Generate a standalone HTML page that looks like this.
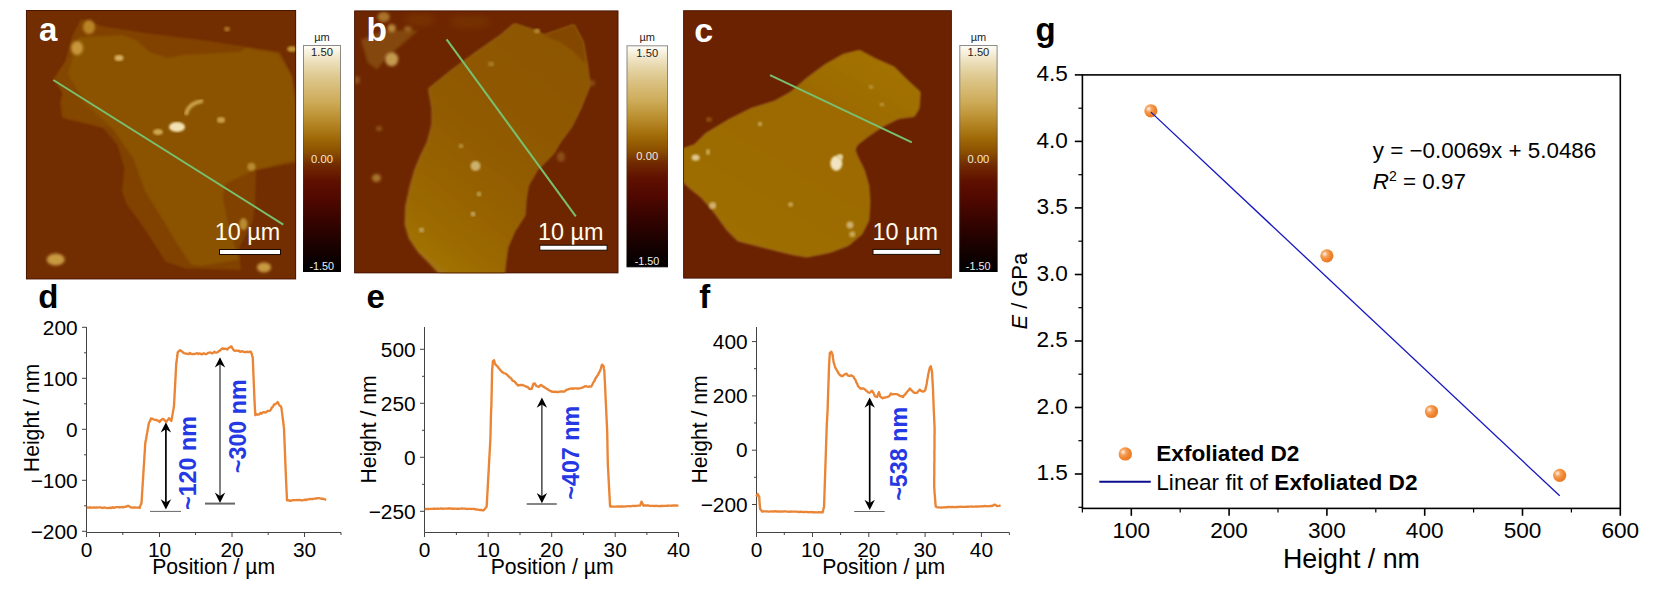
<!DOCTYPE html>
<html lang="en"><head><meta charset="utf-8"><title>AFM figure</title>
<style>
html,body{margin:0;padding:0;background:#fff;}
body{width:1656px;height:590px;overflow:hidden;}
svg{display:block;}
text{font-family:'Liberation Sans', Arial, Helvetica, sans-serif;}
.b{font-weight:bold;}
.tk{font-size:20.9px;fill:#000;}
.ax{font-size:21.2px;fill:#000;}
.gtk{font-size:22.6px;fill:#000;}
.ann{font-size:23.3px;font-weight:bold;fill:#2438e4;}
.sb{font-size:23.4px;fill:#fffbea;}
.cb{font-size:11.2px;fill:#222;}
.pl{font-size:32px;font-weight:bold;}
</style></head><body>
<svg width="1656" height="590" viewBox="0 0 1656 590">
<defs>
<filter id="bl1" x="-10%" y="-10%" width="120%" height="120%"><feGaussianBlur stdDeviation="1.1"/></filter>
<filter id="bl2" x="-30%" y="-30%" width="160%" height="160%"><feGaussianBlur stdDeviation="1.6"/></filter>
<filter id="bl3" x="-30%" y="-30%" width="160%" height="160%"><feGaussianBlur stdDeviation="3"/></filter>
<linearGradient id="cbar" x1="0" y1="0" x2="0" y2="1">
<stop offset="0" stop-color="#fffef8"/>
<stop offset="0.06" stop-color="#efe4c4"/>
<stop offset="0.12" stop-color="#e1ce9a"/>
<stop offset="0.18" stop-color="#d8bd7a"/>
<stop offset="0.25" stop-color="#cdab58"/>
<stop offset="0.33" stop-color="#b98c2c"/>
<stop offset="0.41" stop-color="#a06a08"/>
<stop offset="0.47" stop-color="#8c5000"/>
<stop offset="0.53" stop-color="#722a00"/>
<stop offset="0.60" stop-color="#5f1000"/>
<stop offset="0.68" stop-color="#500800"/>
<stop offset="0.80" stop-color="#300300"/>
<stop offset="0.92" stop-color="#120100"/>
<stop offset="1" stop-color="#000000"/>
</linearGradient>
<linearGradient id="cbs" x1="0" y1="0" x2="0" y2="1"><stop offset="0" stop-color="#8c8c8c"/><stop offset="0.3" stop-color="#8a7a5a"/><stop offset="0.55" stop-color="#5a2a10"/><stop offset="1" stop-color="#000"/></linearGradient>
<radialGradient id="ball" cx="0.34" cy="0.36" r="0.72">
<stop offset="0" stop-color="#fff4ec"/>
<stop offset="0.14" stop-color="#fbd0ac"/>
<stop offset="0.32" stop-color="#f6a058"/>
<stop offset="0.7" stop-color="#ef812a"/>
<stop offset="1" stop-color="#ea7a26"/>
</radialGradient>
<marker id="ah" viewBox="0 0 10 10" refX="5" refY="5" markerWidth="6" markerHeight="6" orient="auto-start-reverse"><path d="M0,0L10,5L0,10z"/></marker>
<clipPath id="ca"><rect x="26" y="10" width="270" height="269.3"/></clipPath>
<clipPath id="cb"><rect x="354.2" y="10.5" width="264.2" height="262.8"/></clipPath>
<clipPath id="cc"><rect x="683.2" y="10.3" width="268.6" height="268.2"/></clipPath>
</defs>
<rect width="1656" height="590" fill="#fff"/>

<g clip-path="url(#ca)">
<rect x="26" y="10" width="270" height="269.3" fill="#722d00"/>
<polygon points="81,19 101,26 145,33 209,41 280,52 292,76 296,100 296,163 256,170 255,205 252.5,222 239,248 241,270 186,268.6 165.6,261.7 154,243.4 140.4,222.8 126.7,204.5 122,190.8 124.4,168 117.5,145 103,128 62,118 60,102 63,93 53,79 65,62 72,37" fill="#814200" filter="url(#bl1)"/>
<polygon points="63,93 55,79 66,62 75,45 110,80 150,130 105,127 64,117 62,102" fill="#844600" filter="url(#bl1)"/>
<polygon points="78.6,37.5 122,35 136,40 150,52 168,58 182,55 239,52 246,48 278,53.5 291.5,76 295,100 295,160 255,170 225,184 222.8,197.6 227.4,220.5 238.8,259.4 200,266.3 190.8,264 177,243.4 163.3,220.5 145,190.8 133.5,158.7 112,128 86,104 68,74" fill="#8b5300" filter="url(#bl1)"/>
<ellipse cx="89" cy="27" rx="6" ry="7" fill="#b98428" filter="url(#bl2)"/>
<ellipse cx="77" cy="48" rx="6" ry="7" fill="#c8963a" filter="url(#bl2)"/>
<ellipse cx="119" cy="58" rx="4.5" ry="3" fill="#d8b060" filter="url(#bl1)"/>
<ellipse cx="177" cy="127" rx="8" ry="5" fill="#f2e2b4" filter="url(#bl1)"/>
<ellipse cx="158" cy="132" rx="5" ry="3" fill="#d0a850" filter="url(#bl1)"/>
<ellipse cx="221" cy="120" rx="4" ry="3" fill="#c9a04a" filter="url(#bl1)"/>
<ellipse cx="251.4" cy="166.7" rx="4" ry="4" fill="#b88a30" filter="url(#bl1)"/>
<ellipse cx="55.7" cy="259.4" rx="9" ry="6" fill="#c89a40" filter="url(#bl2)"/>
<ellipse cx="264" cy="267.4" rx="7" ry="5" fill="#c89a40" filter="url(#bl2)"/>
<ellipse cx="292" cy="49" rx="5" ry="3" fill="#c09030" filter="url(#bl1)"/>
<ellipse cx="227" cy="29" rx="3" ry="2.5" fill="#a87020" filter="url(#bl1)"/>
<ellipse cx="243.4" cy="224" rx="4" ry="6" fill="#b88a30" filter="url(#bl1)"/>
<path d="M186,115 Q188,103 203,101" stroke="#c9a04a" stroke-width="4" fill="none" filter="url(#bl1)"/>
</g>
<rect x="26.4" y="10.5" width="269.3" height="268.5" fill="none" stroke="#3f0e00" stroke-width="0.9" opacity="0.85"/>
<line x1="53.3" y1="80" x2="283.3" y2="224.6" stroke="#78c070" stroke-width="2"/>
<text x="39" y="41.4" class="pl" fill="#fff" style="font-size:33px">a</text>
<text x="247.5" y="240.3" class="sb" text-anchor="middle">10 µm</text>
<rect x="219.5" y="249.5" width="61" height="5" fill="#fff" stroke="#1a0a00" stroke-width="1"/>
<linearGradient id="gb" gradientUnits="userSpaceOnUse" x1="575" y1="50" x2="415" y2="255"><stop offset="0" stop-color="#8d5600"/><stop offset="0.5" stop-color="#915b00"/><stop offset="0.85" stop-color="#9b6900"/><stop offset="1" stop-color="#a37408"/></linearGradient>
<g clip-path="url(#cb)">
<rect x="354.2" y="10.5" width="264.2" height="262.8" fill="#6e2600"/>
<polygon points="360.9,39.7 383.7,30.6 418,30.6 399.7,46.6 388.3,55.7 376.9,69.5 367.7,62.6" fill="#84460a" filter="url(#bl2)"/>
<ellipse cx="391.7" cy="59.2" rx="6.5" ry="7" fill="#c49a50" filter="url(#bl2)"/>
<ellipse cx="383.7" cy="17" rx="6" ry="5" fill="#a8752a" filter="url(#bl2)"/>
<ellipse cx="391.7" cy="28.3" rx="4" ry="4" fill="#b8883a" filter="url(#bl2)"/>
<ellipse cx="408" cy="29" rx="4" ry="3" fill="#9a6420" filter="url(#bl2)"/>
<ellipse cx="376.5" cy="178" rx="4.5" ry="4" fill="#a8752a" filter="url(#bl2)"/>
<ellipse cx="379" cy="128.5" rx="3" ry="2.5" fill="#8f551a" filter="url(#bl2)"/>
<ellipse cx="561" cy="157" rx="4" ry="5" fill="#8a4d12" filter="url(#bl2)"/>
<ellipse cx="592" cy="83" rx="3" ry="3" fill="#8a4d12" filter="url(#bl2)"/>
<ellipse cx="357" cy="80" rx="3" ry="4" fill="#8a4d12" filter="url(#bl2)"/>
<ellipse cx="420" cy="20" rx="14" ry="6" fill="#783305" filter="url(#bl3)"/>
<ellipse cx="470" cy="22" rx="20" ry="6" fill="#763004" filter="url(#bl3)"/>
<polygon points="514.1,23.7 534.7,30.6 543.8,35.2 573.6,24.9 582.7,42 587.3,67.2 589.6,85.5 580.4,108.4 571.3,126.7 559.9,142 553,153.7 537,169.7 527.8,185.7 525.5,199.5 524.4,215.5 514.1,231.5 507.2,247.5 505,263.5 503.8,276 441,276 429.5,263.5 418,252 408.9,238.4 404.8,224.6 405.5,206.3 410,185.7 414.6,169.7 420.3,156 427.2,142 431.8,124.4 431.8,108.4 428.3,88.9 452.4,69.5 477.5,51.2 500.4,35.2" fill="#c09a3a" filter="url(#bl2)" opacity="0.55"/>
<polygon points="514.1,23.7 534.7,30.6 543.8,35.2 573.6,24.9 582.7,42 587.3,67.2 589.6,85.5 580.4,108.4 571.3,126.7 559.9,142 553,153.7 537,169.7 527.8,185.7 525.5,199.5 524.4,215.5 514.1,231.5 507.2,247.5 505,263.5 503.8,276 441,276 429.5,263.5 418,252 408.9,238.4 404.8,224.6 405.5,206.3 410,185.7 414.6,169.7 420.3,156 427.2,142 431.8,124.4 431.8,108.4 428.3,88.9 452.4,69.5 477.5,51.2 500.4,35.2" fill="url(#gb)" filter="url(#bl1)" transform="translate(0.8,-0.3)"/>
<polygon points="543.8,35.2 573.6,24.9 582.7,42 586,64 573.6,51.2 559.9,42" fill="#834700" filter="url(#bl1)"/>
<ellipse cx="475.5" cy="166" rx="5" ry="5" fill="#cdb070" filter="url(#bl1)"/>
<ellipse cx="479" cy="194" rx="2.5" ry="2.5" fill="#b89848" filter="url(#bl1)"/>
<ellipse cx="473" cy="214" rx="2.5" ry="2.5" fill="#c0a060" filter="url(#bl1)"/>
<ellipse cx="421.5" cy="230" rx="2.5" ry="2.5" fill="#c0a060" filter="url(#bl1)"/>
<ellipse cx="461" cy="146" rx="2.5" ry="2" fill="#b89040" filter="url(#bl1)"/>
<ellipse cx="491" cy="64" rx="3" ry="2.5" fill="#a87c28" filter="url(#bl1)"/>
<ellipse cx="537" cy="31" rx="3" ry="2.5" fill="#b08830" filter="url(#bl1)"/>
</g>
<rect x="354.6" y="10.9" width="263.4" height="262" fill="none" stroke="#3f0e00" stroke-width="0.9" opacity="0.85"/>
<line x1="446.6" y1="39.3" x2="575.8" y2="216.4" stroke="#78c070" stroke-width="2"/>
<text x="366.6" y="41" class="pl" fill="#fff" style="font-size:33.5px">b</text>
<text x="570.8" y="240.2" class="sb" text-anchor="middle">10 µm</text>
<rect x="539.8" y="245.2" width="67.3" height="5" fill="#fff" stroke="#1a0a00" stroke-width="1"/>
<linearGradient id="gc" gradientUnits="userSpaceOnUse" x1="880" y1="50" x2="760" y2="250"><stop offset="0" stop-color="#a37306"/><stop offset="0.35" stop-color="#9c6a00"/><stop offset="1" stop-color="#9e6e00"/></linearGradient>
<g clip-path="url(#cc)">
<rect x="683.2" y="10.3" width="268.6" height="268.2" fill="#6b2200"/>
<polygon points="680,150 694.4,145 705.9,133.6 728.8,119.8 751.6,108.4 774.5,101.5 790.6,92.4 806.6,78.6 824.9,64.9 843.2,54.6 859.2,50.7 875.2,59.2 893.5,67.2 907.3,80.9 919.8,92.4 918.7,108.4 914.1,116.4 898.1,118.7 882.1,126.7 868.4,135.9 856.9,145 854.6,150 856.9,156.4 863.8,170.2 868.4,186.2 869.5,202.2 868.4,220.5 861.5,234.2 847.8,245.7 829.5,252.6 806.6,257.1 792.8,254.8 774.5,250.3 756.2,245.7 737.9,241.1 726.5,229.7 715,213.6 701.3,197.6 689.9,188.5 680,179.3" fill="#c8a040" filter="url(#bl2)" opacity="0.55"/>
<polygon points="680,150 694.4,145 705.9,133.6 728.8,119.8 751.6,108.4 774.5,101.5 790.6,92.4 806.6,78.6 824.9,64.9 843.2,54.6 859.2,50.7 875.2,59.2 893.5,67.2 907.3,80.9 919.8,92.4 918.7,108.4 914.1,116.4 898.1,118.7 882.1,126.7 868.4,135.9 856.9,145 854.6,150 856.9,156.4 863.8,170.2 868.4,186.2 869.5,202.2 868.4,220.5 861.5,234.2 847.8,245.7 829.5,252.6 806.6,257.1 792.8,254.8 774.5,250.3 756.2,245.7 737.9,241.1 726.5,229.7 715,213.6 701.3,197.6 689.9,188.5 680,179.3" fill="url(#gc)" filter="url(#bl1)" transform="translate(0.5,-0.4)"/>
<ellipse cx="836.3" cy="163.3" rx="6" ry="7.5" fill="#f2e4c0" filter="url(#bl1)"/>
<ellipse cx="840" cy="157" rx="3" ry="3" fill="#e8d4a0" filter="url(#bl1)"/>
<ellipse cx="695.6" cy="157.6" rx="4" ry="3.2" fill="#e0c890" filter="url(#bl1)"/>
<ellipse cx="708" cy="152" rx="2" ry="3" fill="#c8a858" filter="url(#bl1)"/>
<ellipse cx="712.7" cy="205.6" rx="3.5" ry="3.5" fill="#d0b070" filter="url(#bl1)"/>
<ellipse cx="790.6" cy="204.5" rx="2.5" ry="2.2" fill="#c8a858" filter="url(#bl1)"/>
<ellipse cx="850" cy="225" rx="3.5" ry="3.5" fill="#cdb070" filter="url(#bl1)"/>
<ellipse cx="852.3" cy="234.2" rx="3" ry="3" fill="#c8a858" filter="url(#bl1)"/>
<ellipse cx="760" cy="124" rx="2.5" ry="2.2" fill="#c0a050" filter="url(#bl1)"/>
<ellipse cx="871" cy="87" rx="2.5" ry="2" fill="#b89038" filter="url(#bl1)"/>
<ellipse cx="882" cy="104.5" rx="2.5" ry="2" fill="#b89038" filter="url(#bl1)"/>
<ellipse cx="709" cy="119.5" rx="3" ry="2.5" fill="#8a4d10" filter="url(#bl1)"/>
</g>
<rect x="683.6" y="10.7" width="267.8" height="267.4" fill="none" stroke="#3f0e00" stroke-width="0.9" opacity="0.85"/>
<line x1="770" y1="75.2" x2="911.8" y2="142.4" stroke="#78c070" stroke-width="2"/>
<text x="694.2" y="41.5" class="pl" fill="#fff" style="font-size:34px">c</text>
<text x="905.3" y="240.2" class="sb" text-anchor="middle">10 µm</text>
<rect x="873" y="249.4" width="67.2" height="5" fill="#fff" stroke="#1a0a00" stroke-width="1"/>
<rect x="303.5" y="45.5" width="37" height="226.0" fill="url(#cbar)" stroke="url(#cbs)" stroke-width="1"/>
<text x="322.0" y="40.7" class="cb" text-anchor="middle" style="font-size:11px">µm</text>
<text x="322.0" y="56.3" class="cb" text-anchor="middle">1.50</text>
<text x="322.0" y="162.5" class="cb" text-anchor="middle" style="fill:#f4e8d8">0.00</text>
<text x="321.7" y="269.7" class="cb" text-anchor="middle" style="fill:#f0f0f0;font-size:10.8px">-1.50</text>
<rect x="627" y="45.8" width="40.5" height="221.0" fill="url(#cbar)" stroke="url(#cbs)" stroke-width="1"/>
<text x="647.25" y="41.0" class="cb" text-anchor="middle" style="font-size:11px">µm</text>
<text x="647.25" y="56.599999999999994" class="cb" text-anchor="middle">1.50</text>
<text x="647.25" y="160.3" class="cb" text-anchor="middle" style="fill:#f4e8d8">0.00</text>
<text x="646.95" y="265.0" class="cb" text-anchor="middle" style="fill:#f0f0f0;font-size:10.8px">-1.50</text>
<rect x="959.8" y="45.5" width="37.3" height="226.0" fill="url(#cbar)" stroke="url(#cbs)" stroke-width="1"/>
<text x="978.4499999999999" y="40.7" class="cb" text-anchor="middle" style="font-size:11px">µm</text>
<text x="978.4499999999999" y="56.3" class="cb" text-anchor="middle">1.50</text>
<text x="978.4499999999999" y="162.5" class="cb" text-anchor="middle" style="fill:#f4e8d8">0.00</text>
<text x="978.15" y="269.7" class="cb" text-anchor="middle" style="fill:#f0f0f0;font-size:10.8px">-1.50</text>
<path d="M86.5,327V532.5H341" stroke="#444" stroke-width="1" fill="none"/>
<line x1="82.0" y1="327.3" x2="86.5" y2="327.3" stroke="#444" stroke-width="1"/>
<text x="77.7" y="334.5" class="tk" text-anchor="end">200</text>
<line x1="82.0" y1="378.3" x2="86.5" y2="378.3" stroke="#444" stroke-width="1"/>
<text x="77.7" y="385.5" class="tk" text-anchor="end">100</text>
<line x1="82.0" y1="429.3" x2="86.5" y2="429.3" stroke="#444" stroke-width="1"/>
<text x="77.7" y="436.5" class="tk" text-anchor="end">0</text>
<line x1="82.0" y1="480.3" x2="86.5" y2="480.3" stroke="#444" stroke-width="1"/>
<text x="77.7" y="487.5" class="tk" text-anchor="end">−100</text>
<line x1="82.0" y1="531.3" x2="86.5" y2="531.3" stroke="#444" stroke-width="1"/>
<text x="77.7" y="538.5" class="tk" text-anchor="end">−200</text>
<line x1="84.0" y1="352.8" x2="86.5" y2="352.8" stroke="#444" stroke-width="1"/>
<line x1="84.0" y1="403.8" x2="86.5" y2="403.8" stroke="#444" stroke-width="1"/>
<line x1="84.0" y1="454.8" x2="86.5" y2="454.8" stroke="#444" stroke-width="1"/>
<line x1="84.0" y1="505.8" x2="86.5" y2="505.8" stroke="#444" stroke-width="1"/>
<line x1="86.5" y1="532.5" x2="86.5" y2="537.0" stroke="#444" stroke-width="1"/>
<text x="86.5" y="557.4" class="tk" text-anchor="middle">0</text>
<line x1="159.5" y1="532.5" x2="159.5" y2="537.0" stroke="#444" stroke-width="1"/>
<text x="159.5" y="557.4" class="tk" text-anchor="middle">10</text>
<line x1="232" y1="532.5" x2="232" y2="537.0" stroke="#444" stroke-width="1"/>
<text x="232" y="557.4" class="tk" text-anchor="middle">20</text>
<line x1="304.5" y1="532.5" x2="304.5" y2="537.0" stroke="#444" stroke-width="1"/>
<text x="304.5" y="557.4" class="tk" text-anchor="middle">30</text>
<line x1="122.8" y1="532.5" x2="122.8" y2="535.0" stroke="#444" stroke-width="1"/>
<line x1="195.5" y1="532.5" x2="195.5" y2="535.0" stroke="#444" stroke-width="1"/>
<line x1="268.2" y1="532.5" x2="268.2" y2="535.0" stroke="#444" stroke-width="1"/>
<line x1="341" y1="532.5" x2="341" y2="535.0" stroke="#444" stroke-width="1"/>
<text transform="translate(38.5,418) rotate(-90)" class="ax" text-anchor="middle">Height / nm</text>
<text x="213.6" y="573.6" class="ax" text-anchor="middle">Position / µm</text>
<path d="M86.7,507.5 L87.9,507.4 L89.2,507.7 L90.4,507.3 L91.6,507.7 L92.8,507.6 L94.1,507.4 L95.3,507.7 L96.5,507.4 L97.7,507.6 L99.0,507.4 L100.2,507.4 L101.4,507.7 L102.6,508.0 L103.9,507.5 L105.1,507.6 L106.3,507.9 L107.5,508.1 L108.8,507.8 L110.0,507.7 L111.2,508.1 L112.5,507.3 L113.8,507.9 L115.0,507.4 L116.2,507.2 L117.5,507.1 L118.8,507.2 L120.0,507.5 L121.2,507.0 L122.5,507.2 L123.8,507.2 L125.0,506.9 L126.5,506.5 L128.0,505.7 L129.5,506.5 L131.0,507.4 L132.2,507.7 L133.5,507.5 L134.7,507.5 L136.0,507.7 L137.2,507.6 L138.5,507.5 L139.7,507.8 L140.1,506.5 L140.6,505.0 L141.1,504.1 L141.5,502.8 L141.6,501.6 L141.7,500.4 L141.7,499.1 L141.8,498.0 L141.9,496.6 L142.0,495.5 L142.0,494.3 L142.1,493.0 L142.2,491.8 L142.3,490.5 L142.4,489.4 L142.4,488.2 L142.5,486.9 L142.6,485.8 L142.7,484.5 L142.7,483.3 L142.8,482.1 L142.9,480.8 L143.0,479.6 L143.1,478.4 L143.1,477.2 L143.2,475.9 L143.3,474.8 L143.4,473.4 L143.4,472.3 L143.5,471.1 L143.6,469.9 L143.7,468.7 L143.7,467.4 L143.8,466.2 L143.9,465.0 L144.0,463.7 L144.1,462.5 L144.1,461.3 L144.2,460.0 L144.3,458.8 L144.4,457.7 L144.4,456.4 L144.5,455.2 L144.6,454.0 L144.7,452.8 L144.8,451.5 L144.8,450.3 L144.9,449.1 L145.0,447.9 L145.1,446.7 L145.1,445.5 L145.2,444.2 L145.3,443.0 L145.5,441.8 L145.7,440.7 L146.0,439.5 L146.2,438.2 L146.4,437.0 L146.6,435.8 L146.8,434.6 L147.0,433.4 L147.3,432.2 L147.5,431.0 L147.7,429.7 L147.9,428.6 L148.1,427.4 L148.3,426.2 L148.6,425.1 L148.8,423.9 L149.0,422.6 L149.7,421.6 L150.3,420.5 L150.9,418.5 L151.6,418.6 L152.7,418.9 L153.8,419.5 L154.9,419.9 L156.0,419.8 L157.2,420.5 L158.3,420.6 L159.5,422.0 L160.7,420.4 L161.8,419.5 L163.0,418.9 L164.2,419.8 L165.3,421.1 L166.5,421.7 L167.3,420.4 L168.2,419.5 L169.0,418.2 L170.2,419.7 L171.4,420.9 L171.6,419.8 L171.8,418.5 L172.1,417.1 L172.3,415.9 L172.5,414.6 L172.7,413.4 L172.9,412.0 L173.1,411.0 L173.3,409.7 L173.6,408.3 L173.8,407.1 L174.0,405.7 L174.1,404.5 L174.1,403.3 L174.2,402.1 L174.3,401.1 L174.3,399.7 L174.4,398.4 L174.5,397.5 L174.5,396.2 L174.6,394.8 L174.6,393.8 L174.7,392.4 L174.8,391.3 L174.8,390.3 L174.9,389.0 L175.0,387.8 L175.0,386.4 L175.1,385.3 L175.2,384.0 L175.2,383.0 L175.3,381.7 L175.4,380.6 L175.4,379.2 L175.5,378.0 L175.6,376.9 L175.6,375.8 L175.7,374.5 L175.7,373.3 L175.8,372.1 L175.9,370.9 L175.9,369.5 L176.0,368.4 L176.1,367.2 L176.1,365.9 L176.2,364.7 L176.3,363.5 L176.5,362.3 L176.6,361.3 L176.8,360.1 L176.9,358.8 L177.1,357.7 L177.2,356.5 L177.4,355.3 L177.5,354.0 L177.7,352.4 L178.8,351.3 L180.0,350.2 L181.3,350.8 L182.5,352.0 L183.8,353.0 L185.0,353.5 L186.3,353.6 L187.5,353.8 L188.7,354.0 L189.9,353.0 L191.1,353.8 L192.3,354.2 L193.5,354.0 L194.7,354.0 L195.9,353.6 L197.2,353.1 L198.4,354.0 L199.6,353.4 L200.8,354.0 L202.0,354.3 L203.2,353.5 L204.4,353.5 L205.6,354.2 L206.8,353.9 L208.0,352.9 L209.3,352.7 L210.5,352.5 L211.8,353.3 L213.0,353.0 L214.3,351.8 L215.5,352.6 L216.8,352.6 L218.0,351.9 L219.1,350.8 L220.2,350.4 L221.4,349.1 L222.5,348.3 L223.6,349.0 L224.8,348.7 L226.1,348.8 L227.3,349.6 L228.5,347.9 L229.8,347.5 L231.0,346.5 L231.7,346.7 L232.3,348.0 L233.0,349.2 L233.7,350.2 L235.0,350.9 L236.3,350.5 L237.6,350.9 L238.8,350.6 L240.1,351.9 L241.4,351.2 L242.7,351.5 L244.0,351.8 L245.4,352.3 L246.7,351.6 L248.1,352.3 L249.4,351.7 L250.8,351.7 L251.3,353.1 L251.8,353.8 L252.2,355.8 L252.7,357.2 L252.8,358.4 L252.8,359.8 L252.9,360.8 L252.9,362.1 L253.0,363.4 L253.0,364.6 L253.1,365.7 L253.1,367.0 L253.2,368.2 L253.2,369.5 L253.3,370.5 L253.3,371.8 L253.4,372.9 L253.4,374.2 L253.5,375.5 L253.5,376.6 L253.6,377.9 L253.6,379.1 L253.7,380.4 L253.7,381.4 L253.8,382.7 L253.8,383.9 L253.9,385.1 L253.9,386.3 L254.0,387.5 L254.0,388.7 L254.1,389.9 L254.1,391.3 L254.2,392.4 L254.2,393.6 L254.3,394.9 L254.3,395.9 L254.4,397.2 L254.4,398.5 L254.5,399.7 L254.5,400.7 L254.6,401.9 L254.7,403.3 L254.7,404.5 L254.8,405.8 L254.9,407.1 L254.9,408.5 L255.0,409.9 L255.1,411.2 L255.2,412.3 L255.2,413.8 L255.3,415.2 L256.6,414.1 L257.8,414.7 L259.1,414.4 L260.3,412.9 L261.6,413.6 L262.8,412.4 L264.0,412.2 L265.3,412.6 L266.5,412.0 L267.7,410.8 L269.0,410.8 L270.2,410.6 L271.0,409.3 L271.7,407.9 L272.5,407.0 L273.2,406.4 L274.0,404.3 L275.2,404.3 L276.5,403.4 L277.7,402.1 L278.4,403.5 L279.2,404.9 L279.9,405.8 L280.7,406.1 L281.4,407.8 L281.6,409.0 L281.7,410.2 L281.9,411.2 L282.0,412.4 L282.2,413.5 L282.3,414.9 L282.5,416.0 L282.6,417.1 L282.8,418.4 L282.9,419.8 L283.1,420.9 L283.2,422.0 L283.4,423.1 L283.5,424.5 L283.7,425.6 L283.8,426.9 L284.0,427.9 L284.0,429.1 L284.1,430.5 L284.1,431.6 L284.2,432.8 L284.2,434.2 L284.3,435.3 L284.3,436.6 L284.4,437.6 L284.4,439.1 L284.5,440.1 L284.5,441.5 L284.6,442.6 L284.6,443.8 L284.7,445.1 L284.7,446.4 L284.8,447.4 L284.8,448.6 L284.9,449.9 L284.9,451.1 L284.9,452.2 L285.0,453.5 L285.0,454.7 L285.1,456.0 L285.1,457.2 L285.2,458.4 L285.2,459.7 L285.3,460.8 L285.3,462.1 L285.4,463.3 L285.4,464.5 L285.5,465.7 L285.5,466.9 L285.6,468.1 L285.6,469.4 L285.7,470.6 L285.7,471.8 L285.8,473.0 L285.8,474.3 L285.9,475.4 L285.9,476.7 L286.0,477.9 L286.0,479.2 L286.1,480.5 L286.1,481.7 L286.2,483.0 L286.2,484.2 L286.3,485.5 L286.4,486.7 L286.4,488.0 L286.5,489.3 L286.5,490.5 L286.6,491.7 L286.7,493.0 L286.7,494.2 L286.8,495.4 L286.8,496.7 L286.9,498.0 L286.9,499.2 L287.0,500.3 L288.2,500.2 L289.4,500.7 L290.6,500.7 L291.8,500.5 L293.0,500.2 L294.2,500.1 L295.4,500.1 L296.6,500.2 L297.8,499.9 L299.0,500.1 L300.2,499.9 L301.4,500.4 L302.6,500.4 L303.8,500.0 L305.0,499.7 L306.3,500.0 L307.5,499.4 L308.8,499.3 L310.0,498.9 L311.2,499.1 L312.5,499.0 L313.7,498.9 L315.0,498.5 L316.2,498.6 L317.5,498.1 L318.7,498.1 L319.9,498.3 L321.2,498.7 L322.4,498.7 L323.7,499.0 L324.9,499.4 L326.2,499.8" stroke="#ea8535" stroke-width="2.35" fill="none" stroke-linejoin="round"/>
<line x1="165.9" y1="427.6" x2="165.9" y2="504.2" stroke="#000" stroke-width="1.7"/>
<path d="M165.9,422.3l-5.2,10.3 l5.2,-3.3 l5.2,3.3z" fill="#000"/>
<path d="M165.9,509.5l-5.2,-10.3 l5.2,3.3 l5.2,-3.3z" fill="#000"/>
<line x1="150" y1="511.4" x2="181" y2="511.4" stroke="#666" stroke-width="1.0"/>
<text transform="translate(195.8,463) rotate(-90)" class="ann" text-anchor="middle">~120 nm</text>
<line x1="220" y1="362.5" x2="220" y2="497.6" stroke="#000" stroke-width="1.0"/>
<path d="M220,357.2l-5.2,10.3 l5.2,-3.3 l5.2,3.3z" fill="#000"/>
<path d="M220,502.90000000000003l-5.2,-10.3 l5.2,3.3 l5.2,-3.3z" fill="#000"/>
<line x1="205" y1="503.6" x2="235" y2="503.6" stroke="#666" stroke-width="2"/>
<text transform="translate(246.3,426.2) rotate(-90)" class="ann" text-anchor="middle">~300 nm</text>
<text x="38.3" y="308" class="pl" style="font-size:33px">d</text>
<path d="M424.5,327V532.5H678.6" stroke="#444" stroke-width="1" fill="none"/>
<line x1="420.0" y1="349.3" x2="424.5" y2="349.3" stroke="#444" stroke-width="1"/>
<text x="415.7" y="356.5" class="tk" text-anchor="end">500</text>
<line x1="420.0" y1="403.3" x2="424.5" y2="403.3" stroke="#444" stroke-width="1"/>
<text x="415.7" y="410.5" class="tk" text-anchor="end">250</text>
<line x1="420.0" y1="457.3" x2="424.5" y2="457.3" stroke="#444" stroke-width="1"/>
<text x="415.7" y="464.5" class="tk" text-anchor="end">0</text>
<line x1="420.0" y1="511.3" x2="424.5" y2="511.3" stroke="#444" stroke-width="1"/>
<text x="415.7" y="518.5" class="tk" text-anchor="end">−250</text>
<line x1="422.0" y1="376.3" x2="424.5" y2="376.3" stroke="#444" stroke-width="1"/>
<line x1="422.0" y1="430.3" x2="424.5" y2="430.3" stroke="#444" stroke-width="1"/>
<line x1="422.0" y1="484.3" x2="424.5" y2="484.3" stroke="#444" stroke-width="1"/>
<line x1="424.5" y1="532.5" x2="424.5" y2="537.0" stroke="#444" stroke-width="1"/>
<text x="424.5" y="557.4" class="tk" text-anchor="middle">0</text>
<line x1="488.2" y1="532.5" x2="488.2" y2="537.0" stroke="#444" stroke-width="1"/>
<text x="488.2" y="557.4" class="tk" text-anchor="middle">10</text>
<line x1="551.7" y1="532.5" x2="551.7" y2="537.0" stroke="#444" stroke-width="1"/>
<text x="551.7" y="557.4" class="tk" text-anchor="middle">20</text>
<line x1="615.2" y1="532.5" x2="615.2" y2="537.0" stroke="#444" stroke-width="1"/>
<text x="615.2" y="557.4" class="tk" text-anchor="middle">30</text>
<line x1="678.5" y1="532.5" x2="678.5" y2="537.0" stroke="#444" stroke-width="1"/>
<text x="678.5" y="557.4" class="tk" text-anchor="middle">40</text>
<line x1="456.4" y1="532.5" x2="456.4" y2="535.0" stroke="#444" stroke-width="1"/>
<line x1="520" y1="532.5" x2="520" y2="535.0" stroke="#444" stroke-width="1"/>
<line x1="583.4" y1="532.5" x2="583.4" y2="535.0" stroke="#444" stroke-width="1"/>
<line x1="646.9" y1="532.5" x2="646.9" y2="535.0" stroke="#444" stroke-width="1"/>
<text transform="translate(376,429.4) rotate(-90)" class="ax" text-anchor="middle">Height / nm</text>
<text x="552.1" y="573.6" class="ax" text-anchor="middle">Position / µm</text>
<path d="M424.7,508.8 L426.0,509.0 L427.2,508.9 L428.5,509.0 L429.7,508.9 L430.9,508.9 L432.2,508.9 L433.4,508.7 L434.7,508.7 L435.9,508.9 L437.2,508.5 L438.4,508.8 L439.6,508.7 L440.9,508.4 L442.1,508.7 L443.4,508.7 L444.6,508.6 L445.8,508.6 L447.1,508.6 L448.3,508.3 L449.6,508.5 L450.8,508.5 L452.0,508.7 L453.2,508.7 L454.5,508.7 L455.7,508.6 L456.9,508.8 L458.2,508.7 L459.4,508.8 L460.6,508.6 L461.8,508.5 L463.1,508.6 L464.3,508.7 L465.5,508.6 L466.8,509.0 L468.0,508.9 L469.2,508.9 L470.5,508.9 L471.7,509.0 L472.9,508.9 L474.1,508.9 L475.3,509.4 L476.5,509.5 L477.7,509.6 L478.9,509.8 L480.1,510.0 L481.3,509.9 L482.5,510.4 L483.7,510.3 L484.5,509.3 L485.2,508.4 L485.9,507.6 L486.7,506.5 L486.7,505.3 L486.8,504.1 L486.9,502.9 L486.9,501.7 L487.0,500.5 L487.1,499.3 L487.1,498.1 L487.2,496.8 L487.3,495.6 L487.3,494.4 L487.4,493.2 L487.5,492.0 L487.5,490.8 L487.6,489.6 L487.7,488.4 L487.7,487.1 L487.8,485.9 L487.9,484.7 L487.9,483.6 L488.0,482.4 L488.1,481.1 L488.1,479.9 L488.2,478.7 L488.3,477.5 L488.3,476.3 L488.4,475.1 L488.5,473.9 L488.5,472.7 L488.6,471.5 L488.7,470.3 L488.7,469.0 L488.8,467.8 L488.9,466.7 L488.9,465.5 L489.0,464.2 L489.1,463.0 L489.1,461.8 L489.2,460.6 L489.3,459.4 L489.3,458.2 L489.4,457.0 L489.5,455.8 L489.5,454.6 L489.6,453.3 L489.7,452.2 L489.7,450.9 L489.8,449.8 L489.9,448.5 L489.9,447.3 L490.0,446.1 L490.1,444.9 L490.1,443.7 L490.2,442.5 L490.3,441.3 L490.3,440.1 L490.4,438.9 L490.4,437.6 L490.5,436.4 L490.5,435.1 L490.5,433.9 L490.6,432.6 L490.6,431.4 L490.6,430.2 L490.6,428.8 L490.7,427.6 L490.7,426.4 L490.7,425.1 L490.7,423.8 L490.8,422.6 L490.8,421.3 L490.8,420.1 L490.9,418.8 L490.9,417.5 L490.9,416.3 L491.0,414.9 L491.0,413.6 L491.1,412.3 L491.1,411.0 L491.2,409.6 L491.2,408.3 L491.3,406.9 L491.4,405.6 L491.4,404.4 L491.4,403.2 L491.4,402.0 L491.5,400.8 L491.5,399.6 L491.5,398.4 L491.5,397.2 L491.6,396.0 L491.6,394.8 L491.6,393.5 L491.7,392.3 L491.7,391.1 L491.7,389.9 L491.7,388.7 L491.8,387.5 L491.8,386.3 L491.8,385.0 L491.8,383.8 L491.9,382.7 L491.9,381.4 L491.9,380.2 L491.9,379.0 L492.0,377.8 L492.0,376.6 L492.0,375.4 L492.0,374.1 L492.1,373.0 L492.1,371.7 L492.1,370.5 L492.2,369.2 L492.3,367.9 L492.5,366.5 L492.6,365.2 L492.7,364.0 L492.8,362.7 L492.9,361.2 L494.1,360.2 L494.5,361.6 L494.8,363.0 L495.2,364.2 L496.3,365.3 L497.5,366.4 L498.2,367.5 L499.0,368.3 L499.8,369.4 L500.5,370.4 L501.5,371.3 L502.6,372.3 L503.6,373.0 L505.1,373.5 L506.6,374.3 L507.6,375.4 L508.7,376.3 L509.7,377.3 L510.7,378.1 L511.7,379.3 L512.7,380.8 L513.7,380.9 L514.8,382.0 L515.8,382.8 L516.5,384.0 L517.3,384.6 L518.1,385.6 L519.2,385.2 L520.4,384.9 L521.9,385.0 L523.4,385.3 L524.9,386.0 L526.5,386.8 L527.5,387.0 L528.5,387.7 L529.5,389.0 L531.8,388.8 L532.3,387.1 L532.8,385.7 L533.3,383.9 L534.9,383.4 L535.6,384.9 L536.4,386.0 L537.5,386.4 L538.7,386.9 L539.8,385.8 L541.0,385.0 L542.1,385.7 L543.2,386.6 L544.8,387.4 L546.3,388.4 L547.3,389.0 L548.3,389.7 L549.4,390.5 L550.9,391.1 L552.4,391.9 L553.6,391.6 L554.8,392.1 L556.1,391.7 L557.3,392.2 L558.5,392.0 L559.8,391.7 L561.2,391.5 L562.5,391.5 L563.9,391.7 L564.9,391.2 L566.0,390.2 L567.1,389.6 L568.1,389.4 L569.2,388.9 L570.5,388.7 L571.7,388.5 L573.0,388.8 L574.3,388.3 L575.5,388.4 L576.8,388.5 L578.0,388.7 L579.3,388.3 L580.5,388.2 L581.7,387.8 L582.9,387.4 L584.5,386.5 L586.0,386.1 L587.1,386.5 L588.3,386.9 L589.8,386.4 L591.3,386.5 L591.9,385.5 L592.5,384.2 L593.0,382.9 L593.6,382.1 L594.4,381.0 L595.1,379.2 L595.9,377.8 L596.7,376.8 L597.4,375.6 L598.2,374.5 L598.8,373.0 L599.3,372.3 L599.9,371.1 L600.5,369.8 L600.9,368.4 L601.2,367.2 L601.6,365.7 L602.0,364.6 L603.5,365.9 L603.8,367.4 L604.0,369.0 L604.3,370.5 L604.4,371.9 L604.4,373.1 L604.5,374.3 L604.5,375.6 L604.6,376.9 L604.7,378.2 L604.7,379.5 L604.8,380.6 L604.9,382.0 L604.9,383.2 L605.0,384.6 L605.1,385.7 L605.1,386.9 L605.2,388.1 L605.2,389.4 L605.3,390.7 L605.3,391.9 L605.4,393.0 L605.4,394.3 L605.5,395.5 L605.6,396.6 L605.6,397.8 L605.7,399.1 L605.7,400.3 L605.8,401.4 L605.8,402.7 L605.9,403.8 L606.0,405.0 L606.0,406.2 L606.1,407.4 L606.1,408.6 L606.2,409.9 L606.2,411.1 L606.3,412.3 L606.3,413.5 L606.4,414.7 L606.5,415.9 L606.5,417.1 L606.6,418.3 L606.6,419.5 L606.7,420.7 L606.7,421.9 L606.8,423.1 L606.9,424.3 L606.9,425.6 L607.0,426.7 L607.0,427.9 L607.1,429.2 L607.1,430.3 L607.2,431.6 L607.2,432.8 L607.2,434.0 L607.3,435.2 L607.3,436.5 L607.3,437.7 L607.3,439.0 L607.4,440.2 L607.4,441.4 L607.4,442.7 L607.4,443.9 L607.4,445.1 L607.5,446.4 L607.5,447.6 L607.5,448.8 L607.5,450.1 L607.6,451.3 L607.6,452.5 L607.6,453.7 L607.6,455.0 L607.7,456.2 L607.7,457.5 L607.7,458.7 L607.7,459.9 L607.8,461.1 L607.8,462.4 L607.8,463.6 L607.9,464.9 L607.9,466.0 L608.0,467.3 L608.1,468.5 L608.1,469.7 L608.2,471.0 L608.3,472.2 L608.3,473.4 L608.4,474.7 L608.5,475.9 L608.5,477.1 L608.6,478.3 L608.6,479.5 L608.7,480.7 L608.8,482.0 L608.8,483.2 L608.9,484.4 L609.0,485.6 L609.0,486.9 L609.1,488.1 L609.2,489.3 L609.2,490.5 L609.3,491.8 L609.4,493.0 L609.4,494.3 L609.5,495.5 L609.6,496.7 L609.6,497.9 L609.7,499.1 L609.8,500.3 L609.8,501.6 L609.9,502.8 L609.9,504.0 L610.0,505.2 L610.1,506.5 L611.3,506.5 L612.6,506.6 L613.9,506.6 L615.2,506.6 L616.4,506.6 L617.7,506.3 L619.0,506.6 L620.2,506.4 L621.5,506.5 L622.8,506.4 L624.0,506.6 L625.3,506.4 L626.5,506.3 L627.8,506.2 L629.0,506.1 L630.2,506.3 L631.5,506.1 L632.7,505.9 L633.9,505.9 L635.2,506.0 L636.4,505.8 L637.6,505.6 L638.8,505.7 L640.1,505.6 L640.6,504.4 L641.1,502.7 L641.5,501.6 L642.2,503.0 L642.9,504.3 L643.5,505.7 L644.8,505.4 L646.0,505.5 L647.3,505.5 L648.5,505.5 L649.8,505.9 L651.0,505.8 L652.2,505.9 L653.5,505.8 L654.7,506.0 L656.0,505.9 L657.2,505.8 L658.5,506.1 L659.7,506.2 L661.0,505.8 L662.2,506.0 L663.5,505.9 L664.7,505.8 L666.0,505.8 L667.2,505.7 L668.5,505.7 L669.7,505.6 L670.9,505.7 L672.2,505.7 L673.4,505.5 L674.7,505.4 L675.9,505.5 L677.2,505.6 L678.4,505.5" stroke="#ea8535" stroke-width="2.35" fill="none" stroke-linejoin="round"/>
<line x1="541.9" y1="402.8" x2="541.9" y2="498" stroke="#000" stroke-width="1.1"/>
<path d="M541.9,397.5l-5.2,10.3 l5.2,-3.3 l5.2,3.3z" fill="#000"/>
<path d="M541.9,503.3l-5.2,-10.3 l5.2,3.3 l5.2,-3.3z" fill="#000"/>
<line x1="526.7" y1="504" x2="556.8" y2="504" stroke="#666" stroke-width="1.6"/>
<text transform="translate(578.7,452.7) rotate(-90)" class="ann" text-anchor="middle">~407 nm</text>
<text x="366.5" y="308" class="pl" style="font-size:33px">e</text>
<path d="M756.5,327V532.5H1009.4" stroke="#444" stroke-width="1" fill="none"/>
<line x1="752.0" y1="341.6" x2="756.5" y2="341.6" stroke="#444" stroke-width="1"/>
<text x="747.7" y="348.8" class="tk" text-anchor="end">400</text>
<line x1="752.0" y1="395.9" x2="756.5" y2="395.9" stroke="#444" stroke-width="1"/>
<text x="747.7" y="403.09999999999997" class="tk" text-anchor="end">200</text>
<line x1="752.0" y1="450.2" x2="756.5" y2="450.2" stroke="#444" stroke-width="1"/>
<text x="747.7" y="457.4" class="tk" text-anchor="end">0</text>
<line x1="752.0" y1="504.5" x2="756.5" y2="504.5" stroke="#444" stroke-width="1"/>
<text x="747.7" y="511.7" class="tk" text-anchor="end">−200</text>
<line x1="754.0" y1="368.7" x2="756.5" y2="368.7" stroke="#444" stroke-width="1"/>
<line x1="754.0" y1="423" x2="756.5" y2="423" stroke="#444" stroke-width="1"/>
<line x1="754.0" y1="477.3" x2="756.5" y2="477.3" stroke="#444" stroke-width="1"/>
<line x1="756.5" y1="532.5" x2="756.5" y2="537.0" stroke="#444" stroke-width="1"/>
<text x="756.5" y="557.4" class="tk" text-anchor="middle">0</text>
<line x1="812.5" y1="532.5" x2="812.5" y2="537.0" stroke="#444" stroke-width="1"/>
<text x="812.5" y="557.4" class="tk" text-anchor="middle">10</text>
<line x1="868.8" y1="532.5" x2="868.8" y2="537.0" stroke="#444" stroke-width="1"/>
<text x="868.8" y="557.4" class="tk" text-anchor="middle">20</text>
<line x1="925.1" y1="532.5" x2="925.1" y2="537.0" stroke="#444" stroke-width="1"/>
<text x="925.1" y="557.4" class="tk" text-anchor="middle">30</text>
<line x1="981.4" y1="532.5" x2="981.4" y2="537.0" stroke="#444" stroke-width="1"/>
<text x="981.4" y="557.4" class="tk" text-anchor="middle">40</text>
<line x1="784.3" y1="532.5" x2="784.3" y2="535.0" stroke="#444" stroke-width="1"/>
<line x1="840.6" y1="532.5" x2="840.6" y2="535.0" stroke="#444" stroke-width="1"/>
<line x1="896.9" y1="532.5" x2="896.9" y2="535.0" stroke="#444" stroke-width="1"/>
<line x1="953.2" y1="532.5" x2="953.2" y2="535.0" stroke="#444" stroke-width="1"/>
<line x1="1009.4" y1="532.5" x2="1009.4" y2="535.0" stroke="#444" stroke-width="1"/>
<text transform="translate(707.3,429.4) rotate(-90)" class="ax" text-anchor="middle">Height / nm</text>
<text x="883.6" y="573.6" class="ax" text-anchor="middle">Position / µm</text>
<path d="M756.2,496.5 L756.9,495.4 L757.7,494.1 L758.4,495.5 L759.2,496.7 L759.3,497.9 L759.4,499.1 L759.4,500.3 L759.5,501.6 L759.6,502.8 L759.7,504.0 L759.8,505.2 L759.9,506.5 L760.0,507.7 L760.1,508.9 L761.1,510.1 L762.1,511.6 L763.4,511.3 L764.6,511.4 L765.8,511.3 L767.1,511.4 L768.3,511.6 L769.6,511.6 L770.8,511.4 L772.1,511.3 L773.3,511.5 L774.6,511.3 L775.8,511.2 L777.1,511.6 L778.3,511.4 L779.6,511.6 L780.8,511.4 L782.0,511.6 L783.2,511.5 L784.5,511.4 L785.7,511.4 L786.9,511.6 L788.2,511.7 L789.4,511.8 L790.6,511.5 L791.8,511.7 L793.1,511.6 L794.3,511.7 L795.5,511.6 L796.8,511.7 L798.0,511.8 L799.2,512.0 L800.5,511.7 L801.7,511.9 L802.9,512.0 L804.1,512.1 L805.4,511.8 L806.6,511.8 L807.8,512.2 L809.1,512.2 L810.3,512.1 L811.5,511.9 L812.7,512.3 L814.0,512.1 L815.2,512.4 L816.4,512.3 L817.7,512.4 L818.9,512.2 L820.1,512.4 L821.3,512.2 L822.6,512.4 L822.9,511.2 L823.2,510.1 L823.5,508.8 L823.8,507.6 L824.1,506.5 L824.1,505.3 L824.1,504.0 L824.2,502.8 L824.2,501.6 L824.3,500.4 L824.3,499.2 L824.3,497.9 L824.4,496.8 L824.4,495.6 L824.5,494.3 L824.5,493.1 L824.5,491.9 L824.6,490.7 L824.6,489.5 L824.7,488.3 L824.7,487.0 L824.7,485.8 L824.8,484.6 L824.8,483.4 L824.9,482.2 L824.9,480.9 L824.9,479.7 L825.0,478.5 L825.0,477.3 L825.1,476.1 L825.1,474.8 L825.1,473.7 L825.2,472.4 L825.2,471.2 L825.3,470.0 L825.3,468.8 L825.4,467.5 L825.4,466.3 L825.4,465.1 L825.5,463.9 L825.5,462.7 L825.6,461.5 L825.6,460.2 L825.6,459.1 L825.7,457.8 L825.7,456.6 L825.8,455.4 L825.8,454.2 L825.8,452.9 L825.9,451.7 L825.9,450.5 L826.0,449.3 L826.0,448.1 L826.0,446.9 L826.1,445.7 L826.1,444.5 L826.2,443.3 L826.2,442.0 L826.2,440.8 L826.3,439.6 L826.3,438.4 L826.4,437.2 L826.4,435.9 L826.5,434.7 L826.5,433.5 L826.5,432.2 L826.6,431.1 L826.6,429.9 L826.7,428.6 L826.7,427.4 L826.7,426.2 L826.8,425.0 L826.8,423.7 L826.9,422.5 L827.0,421.3 L827.1,420.0 L827.1,418.7 L827.2,417.5 L827.3,416.2 L827.3,415.0 L827.4,413.7 L827.5,412.5 L827.5,411.3 L827.6,410.1 L827.6,408.9 L827.7,407.6 L827.7,406.5 L827.7,405.2 L827.8,404.0 L827.8,402.8 L827.9,401.6 L827.9,400.4 L827.9,399.2 L828.0,398.0 L828.0,396.8 L828.1,395.6 L828.1,394.4 L828.1,393.2 L828.2,392.0 L828.2,390.8 L828.3,389.6 L828.3,388.4 L828.3,387.2 L828.4,386.0 L828.4,384.8 L828.5,383.6 L828.5,382.3 L828.5,381.2 L828.6,379.9 L828.6,378.8 L828.7,377.5 L828.7,376.3 L828.7,375.2 L828.8,373.9 L828.8,372.7 L828.9,371.5 L828.9,370.3 L828.9,369.1 L829.0,367.9 L829.0,366.7 L829.1,365.5 L829.1,364.3 L829.2,363.1 L829.3,361.8 L829.4,360.6 L829.4,359.4 L829.5,358.1 L829.6,356.9 L829.7,355.7 L829.7,354.5 L829.8,353.2 L831.4,351.7 L832.0,353.3 L832.6,354.8 L832.7,356.0 L832.9,357.4 L833.1,358.6 L833.3,359.9 L833.5,361.3 L833.6,362.2 L834.0,363.3 L834.4,364.4 L834.8,366.0 L835.2,367.3 L835.7,368.4 L836.3,369.2 L836.9,370.3 L837.5,371.2 L838.2,372.8 L839.0,373.9 L839.7,374.8 L840.9,375.7 L842.0,376.1 L843.2,375.6 L844.3,374.5 L846.6,373.7 L847.7,375.4 L848.9,375.8 L850.0,375.8 L851.2,375.3 L852.3,376.0 L853.5,376.6 L854.2,378.4 L855.0,379.1 L855.8,380.8 L856.3,382.4 L856.9,383.1 L857.5,384.5 L858.0,386.2 L859.2,387.2 L860.3,388.5 L862.6,388.3 L863.8,388.6 L864.9,389.4 L866.0,390.5 L867.2,391.4 L868.3,392.5 L869.5,392.9 L870.6,392.1 L871.8,390.7 L873.3,392.5 L873.8,393.7 L874.3,394.7 L874.8,396.2 L876.0,396.6 L877.1,397.0 L877.6,395.6 L878.0,394.5 L878.5,393.1 L878.9,392.1 L879.3,393.5 L879.7,394.6 L880.1,395.9 L880.5,396.9 L881.5,397.3 L882.4,398.3 L884.0,397.7 L885.5,397.5 L887.0,397.0 L888.5,396.6 L889.3,395.9 L890.1,395.1 L890.8,393.5 L892.4,394.4 L893.9,394.1 L895.2,394.2 L896.4,394.1 L897.7,394.4 L899.2,395.4 L900.7,396.2 L901.9,396.2 L903.0,397.1 L903.8,395.7 L904.6,394.7 L905.3,394.2 L906.1,393.1 L907.0,392.0 L908.0,390.8 L908.9,389.9 L909.9,388.4 L911.0,389.8 L912.2,390.8 L913.3,392.1 L914.5,392.9 L916.8,392.8 L917.8,391.8 L918.8,390.7 L919.8,389.7 L921.0,390.9 L922.1,391.4 L923.6,391.5 L925.1,390.6 L925.4,389.2 L925.8,387.9 L926.1,386.6 L926.4,385.2 L926.7,383.7 L926.9,382.4 L927.1,381.1 L927.3,379.9 L927.5,378.6 L927.8,377.3 L928.0,376.0 L928.2,374.6 L928.5,373.3 L928.8,371.9 L929.1,370.6 L929.4,369.2 L929.7,367.9 L930.8,366.2 L931.1,367.6 L931.4,369.0 L931.7,370.3 L932.0,371.6 L932.1,372.8 L932.1,374.0 L932.2,375.2 L932.3,376.4 L932.3,377.6 L932.4,378.8 L932.5,380.0 L932.5,381.2 L932.6,382.4 L932.7,383.6 L932.7,384.8 L932.8,386.0 L932.9,387.2 L932.9,388.4 L933.0,389.6 L933.0,390.7 L933.1,392.0 L933.1,393.2 L933.2,394.4 L933.2,395.6 L933.3,396.8 L933.3,398.0 L933.4,399.2 L933.4,400.4 L933.5,401.6 L933.5,402.8 L933.5,404.0 L933.6,405.2 L933.6,406.5 L933.7,407.6 L933.7,408.9 L933.8,410.1 L933.8,411.2 L933.9,412.6 L934.0,413.8 L934.0,415.2 L934.1,416.4 L934.1,417.7 L934.2,419.0 L934.2,420.3 L934.3,421.6 L934.4,422.8 L934.4,424.2 L934.5,425.4 L934.5,426.8 L934.6,428.0 L934.6,429.3 L934.6,430.5 L934.6,431.7 L934.6,432.9 L934.6,434.2 L934.5,435.4 L934.5,436.6 L934.5,437.8 L934.5,439.1 L934.5,440.2 L934.5,441.5 L934.5,442.7 L934.5,444.0 L934.5,445.2 L934.5,446.4 L934.5,447.6 L934.5,448.8 L934.4,450.1 L934.4,451.3 L934.4,452.6 L934.4,453.7 L934.4,455.0 L934.4,456.2 L934.4,457.4 L934.4,458.6 L934.4,459.9 L934.4,461.1 L934.4,462.3 L934.3,463.6 L934.3,464.8 L934.3,466.0 L934.3,467.2 L934.3,468.5 L934.3,469.7 L934.3,470.9 L934.3,472.1 L934.3,473.3 L934.3,474.5 L934.3,475.8 L934.2,477.0 L934.2,478.3 L934.2,479.4 L934.2,480.7 L934.2,481.9 L934.2,483.2 L934.2,484.3 L934.2,485.6 L934.2,486.9 L934.3,488.0 L934.4,489.3 L934.5,490.5 L934.5,491.8 L934.6,493.0 L934.7,494.2 L934.8,495.4 L934.9,496.6 L935.0,497.9 L935.1,499.1 L935.2,500.3 L935.3,501.6 L935.4,502.8 L935.5,504.1 L935.6,505.3 L935.7,506.3 L936.9,507.2 L938.1,507.3 L939.3,507.4 L940.6,507.6 L941.8,507.5 L943.0,507.4 L944.3,507.3 L945.5,507.1 L946.7,507.3 L947.9,507.0 L949.2,507.0 L950.4,507.1 L951.6,506.9 L952.9,507.0 L954.1,507.1 L955.3,507.1 L956.5,507.0 L957.8,507.0 L959.0,506.9 L960.2,506.7 L961.5,506.9 L962.7,506.8 L963.9,506.9 L965.2,506.9 L966.4,506.7 L967.6,506.7 L968.8,506.7 L970.1,506.6 L971.3,506.5 L972.5,506.6 L973.8,506.7 L975.0,506.6 L976.2,506.5 L977.4,506.6 L978.7,506.5 L979.9,506.4 L981.1,506.3 L982.4,506.2 L983.6,506.3 L984.8,506.0 L986.0,506.1 L987.3,506.3 L988.5,506.2 L989.7,506.1 L991.0,505.9 L992.2,506.0 L993.4,505.2 L994.7,504.6 L995.9,505.2 L997.1,506.1 L998.8,505.9 L1000.6,505.5" stroke="#ea8535" stroke-width="2.35" fill="none" stroke-linejoin="round"/>
<line x1="869.7" y1="402.8" x2="869.7" y2="504.7" stroke="#000" stroke-width="1.7"/>
<path d="M869.7,397.5l-5.2,10.3 l5.2,-3.3 l5.2,3.3z" fill="#000"/>
<path d="M869.7,510.0l-5.2,-10.3 l5.2,3.3 l5.2,-3.3z" fill="#000"/>
<line x1="854.2" y1="511.5" x2="884.7" y2="511.5" stroke="#666" stroke-width="1.0"/>
<text transform="translate(907.3,453.8) rotate(-90)" class="ann" text-anchor="middle">~538 nm</text>
<text x="699.2" y="308" class="pl" style="font-size:33px">f</text>
<rect x="1082.4" y="74.9" width="537.8999999999999" height="433.5" fill="none" stroke="#000" stroke-width="1.6"/>
<line x1="1074.8000000000002" y1="74.9" x2="1082.4" y2="74.9" stroke="#000" stroke-width="1.6"/>
<text x="1067.8000000000002" y="81.2" class="gtk" text-anchor="end">4.5</text>
<line x1="1074.8000000000002" y1="141.4" x2="1082.4" y2="141.4" stroke="#000" stroke-width="1.6"/>
<text x="1067.8000000000002" y="147.7" class="gtk" text-anchor="end">4.0</text>
<line x1="1074.8000000000002" y1="207.9" x2="1082.4" y2="207.9" stroke="#000" stroke-width="1.6"/>
<text x="1067.8000000000002" y="214.2" class="gtk" text-anchor="end">3.5</text>
<line x1="1074.8000000000002" y1="274.5" x2="1082.4" y2="274.5" stroke="#000" stroke-width="1.6"/>
<text x="1067.8000000000002" y="280.8" class="gtk" text-anchor="end">3.0</text>
<line x1="1074.8000000000002" y1="341.0" x2="1082.4" y2="341.0" stroke="#000" stroke-width="1.6"/>
<text x="1067.8000000000002" y="347.3" class="gtk" text-anchor="end">2.5</text>
<line x1="1074.8000000000002" y1="407.5" x2="1082.4" y2="407.5" stroke="#000" stroke-width="1.6"/>
<text x="1067.8000000000002" y="413.8" class="gtk" text-anchor="end">2.0</text>
<line x1="1074.8000000000002" y1="474.0" x2="1082.4" y2="474.0" stroke="#000" stroke-width="1.6"/>
<text x="1067.8000000000002" y="480.3" class="gtk" text-anchor="end">1.5</text>
<line x1="1078.4" y1="108.2" x2="1082.4" y2="108.2" stroke="#000" stroke-width="1.2"/>
<line x1="1078.4" y1="174.7" x2="1082.4" y2="174.7" stroke="#000" stroke-width="1.2"/>
<line x1="1078.4" y1="241.2" x2="1082.4" y2="241.2" stroke="#000" stroke-width="1.2"/>
<line x1="1078.4" y1="307.7" x2="1082.4" y2="307.7" stroke="#000" stroke-width="1.2"/>
<line x1="1078.4" y1="374.2" x2="1082.4" y2="374.2" stroke="#000" stroke-width="1.2"/>
<line x1="1078.4" y1="440.7" x2="1082.4" y2="440.7" stroke="#000" stroke-width="1.2"/>
<line x1="1078.4" y1="507.3" x2="1082.4" y2="507.3" stroke="#000" stroke-width="1.2"/>
<line x1="1131.3" y1="508.4" x2="1131.3" y2="515.8" stroke="#000" stroke-width="1.6"/>
<text x="1131.3" y="538.4" class="gtk" text-anchor="middle">100</text>
<line x1="1229.1" y1="508.4" x2="1229.1" y2="515.8" stroke="#000" stroke-width="1.6"/>
<text x="1229.1" y="538.4" class="gtk" text-anchor="middle">200</text>
<line x1="1326.9" y1="508.4" x2="1326.9" y2="515.8" stroke="#000" stroke-width="1.6"/>
<text x="1326.9" y="538.4" class="gtk" text-anchor="middle">300</text>
<line x1="1424.7" y1="508.4" x2="1424.7" y2="515.8" stroke="#000" stroke-width="1.6"/>
<text x="1424.7" y="538.4" class="gtk" text-anchor="middle">400</text>
<line x1="1522.5" y1="508.4" x2="1522.5" y2="515.8" stroke="#000" stroke-width="1.6"/>
<text x="1522.5" y="538.4" class="gtk" text-anchor="middle">500</text>
<line x1="1620.3" y1="508.4" x2="1620.3" y2="515.8" stroke="#000" stroke-width="1.6"/>
<text x="1620.3" y="538.4" class="gtk" text-anchor="middle">600</text>
<line x1="1082.4" y1="508.4" x2="1082.4" y2="512.4" stroke="#000" stroke-width="1.2"/>
<line x1="1180.2" y1="508.4" x2="1180.2" y2="512.4" stroke="#000" stroke-width="1.2"/>
<line x1="1278.0" y1="508.4" x2="1278.0" y2="512.4" stroke="#000" stroke-width="1.2"/>
<line x1="1375.8" y1="508.4" x2="1375.8" y2="512.4" stroke="#000" stroke-width="1.2"/>
<line x1="1473.6" y1="508.4" x2="1473.6" y2="512.4" stroke="#000" stroke-width="1.2"/>
<line x1="1571.4" y1="508.4" x2="1571.4" y2="512.4" stroke="#000" stroke-width="1.2"/>
<circle cx="1150.9" cy="110.8" r="6.6" fill="url(#ball)"/>
<circle cx="1326.9" cy="255.8" r="6.6" fill="url(#ball)"/>
<circle cx="1431.5" cy="411.5" r="6.6" fill="url(#ball)"/>
<circle cx="1559.7" cy="475.3" r="6.6" fill="url(#ball)"/>
<line x1="1150.9" y1="112.1" x2="1559.7" y2="495.8" stroke="#1616c0" stroke-width="1.3"/>
<text x="1372.8" y="157.6" class="gtk" style="font-size:22.4px">y = −0.0069x + 5.0486</text>
<text x="1372.8" y="188.8" class="gtk" style="font-size:22.4px"><tspan font-style="italic">R</tspan><tspan dy="-7.5" font-size="14">2</tspan><tspan dy="7.5"> = 0.97</tspan></text>
<circle cx="1125.3" cy="453.9" r="6.7" fill="url(#ball)"/>
<text x="1156.3" y="460.6" class="gtk b">Exfoliated D2</text>
<line x1="1099.3" y1="481.8" x2="1150.8" y2="481.8" stroke="#0c0c8c" stroke-width="1.9"/>
<text x="1156.3" y="489.8" class="gtk">Linear fit of <tspan class="b">Exfoliated D2</tspan></text>
<text transform="translate(1027.3,291.2) rotate(-90)" class="gtk" style="font-size:21.9px" text-anchor="middle"><tspan font-style="italic">E</tspan> / GPa</text>
<text x="1351.4" y="567.6" text-anchor="middle" style="font-size:26.8px">Height / nm</text>
<text x="1035.4" y="40.6" class="pl" style="font-size:33px">g</text>
</svg></body></html>
